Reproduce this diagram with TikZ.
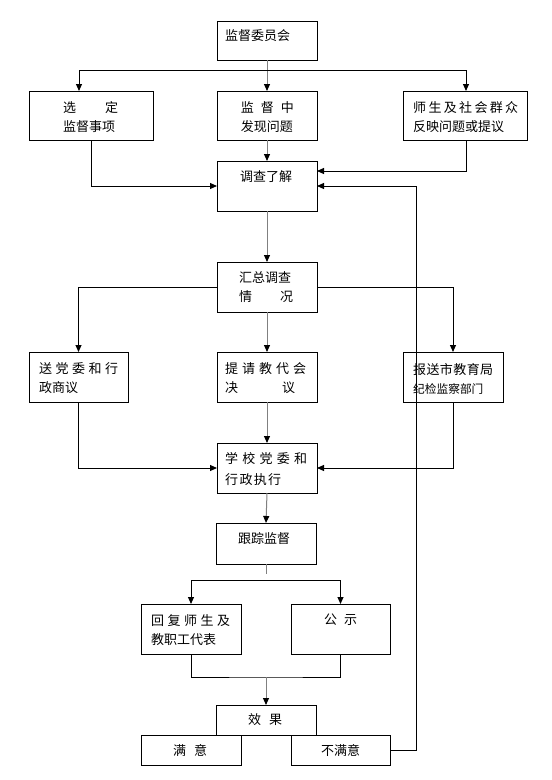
\documentclass[tikz,border=0pt]{standalone}
\usepackage{fontspec}
\newfontfamily\cjk{Noto Sans CJK SC}
\usetikzlibrary{arrows.meta,calc}
\tikzset{
  bx/.style={draw=black, line width=1pt, anchor=north west, inner sep=0pt, outer sep=0pt},
  tx/.style={font=\cjk\fontsize{13}{19}\selectfont, inner sep=0pt, anchor=west, align=left},
  ln/.style={line width=1pt, draw=black},
  gln/.style={line width=1pt, draw=gray},
  arr/.style={-{Triangle[width=6pt,length=7pt,color=black]}},
}
\begin{document}
\begin{tikzpicture}[x=1pt,y=-1pt]
\fill[white] (0,0) rectangle (552,780);
\useasboundingbox (0,0) rectangle (552,780);
% boxes
\node[bx,minimum width=100,minimum height=39] (top) at (217,21) {};
\node[tx] (ttop) at (225,36) {监督委员会};
\node[bx,minimum width=124,minimum height=49] (b1) at (29,91) {};
\node[tx] (tb1) at (63,117.2) {\makebox[55pt]{选\hfill 定}\\监督事项};
\node[bx,minimum width=100,minimum height=49] (b2) at (217,91) {};
\node[tx] (tb2) at (240.6,117.2) {\makebox[53pt]{监\hfill 督\hfill 中}\\发现问题};
\node[bx,minimum width=124,minimum height=49] (b3) at (403,91) {};
\node[tx] (tb3) at (413,117.5) {\makebox[105pt]{师\hfill 生\hfill 及\hfill 社\hfill 会\hfill 群\hfill 众}\\反映问题或提议};
\node[bx,minimum width=100,minimum height=50] (inv) at (217,161) {};
\node[tx] (tinv) at (240,177) {调查了解};
\node[bx,minimum width=100,minimum height=50] (sum) at (217,262) {};
\node[tx] (tsum) at (239,287.5) {汇总调查\\\makebox[54pt]{情\hfill 况}};
\node[bx,minimum width=99,minimum height=50] (p1) at (29,352) {};
\node[tx] (tp1) at (39,378.5) {\makebox[79pt]{送\hfill 党\hfill 委\hfill 和\hfill 行}\\政商议};
\node[bx,minimum width=100,minimum height=50] (p2) at (217,352) {};
\node[tx] (tp2) at (225,378.5) {\makebox[81pt]{提\hfill 请\hfill 教\hfill 代\hfill 会}\\\makebox[70pt]{决\hfill 议}};
\node[bx,minimum width=100,minimum height=50] (p3) at (403,352) {};
\node[tx] (tp3) at (413,378.5) {\makebox[80pt]{报\hfill 送\hfill 市\hfill 教\hfill 育\hfill 局}\\{\fontsize{11.7}{19}\selectfont 纪检监察部门}};
\node[bx,minimum width=100,minimum height=50] (exe) at (217,443) {};
\node[tx] (texe) at (225,468.8) {\makebox[82pt]{学\hfill 校\hfill 党\hfill 委\hfill 和}\\[2pt]\makebox[56pt]{行\hfill 政\hfill 执\hfill 行}};
\node[bx,minimum width=100,minimum height=41] (trk) at (216,523) {};
\node[tx] (ttrk) at (238,539) {跟踪监督};
\node[bx,minimum width=100,minimum height=50] (r1) at (141,604) {};
\node[tx] (tr1) at (151,629.7) {\makebox[79pt]{回\hfill 复\hfill 师\hfill 生\hfill 及}\\教职工代表};
\node[bx,minimum width=99,minimum height=50] (r2) at (291,604) {};
\node[tx] (tr2) at (324,620) {\makebox[33pt]{公\hfill 示}};
\node[bx,minimum width=100,minimum height=30] (eff) at (216,705) {};
\node[tx] (teff) at (248,720) {\makebox[34pt]{效\hfill 果}};
\node[bx,minimum width=100,minimum height=30] (s1) at (141,735) {};
\node[tx] (ts1) at (173,750) {\makebox[34pt]{满\hfill 意}};
\node[bx,minimum width=99,minimum height=30] (s2) at (291,735) {};
\node[tx] (ts2) at (321,750) {不满意};
% connectors
\coordinate (j1) at (267,70);
\draw[gln,arr] (top.south) -- (b2.north);
\draw[ln,arr] (j1) -| ([xshift=-12pt]b1.north);
\draw[ln,arr] (j1) -| ([xshift=1pt]b3.north);
\draw[gln,arr] (b2.south) -- (inv.north);
\draw[ln,arr] (b1.south) |- (inv.west);
\draw[ln,arr] ([xshift=1pt]b3.south) |- ([yshift=15pt]inv.east);
\draw[gln,arr] (inv.south) -- (sum.north);
\draw[ln,arr] (sum.west) -| (p1.north);
\draw[ln,arr] (sum.east) -| (p3.north);
\draw[gln,arr] (sum.south) -- (p2.north);
\draw[gln,arr] (p2.south) -- (exe.north);
\draw[ln,arr] (p1.south) |- (exe.west);
\draw[ln,arr] (p3.south) |- (exe.east);
\draw[gln,arr] (exe.south) -- (trk.north);
\coordinate (stub) at (266,574);
\draw[gln] (trk.south) -- (stub);
\coordinate (j2) at (266,580.3);
\draw[ln,arr] (j2) -| (r1.north);
\draw[ln,arr] (j2) -| (r2.north);
\coordinate (j3) at (266,677);
\draw[ln] (r1.south) |- (j3) -| (r2.south);
\draw[gln,arr] (j3) -- (eff.north);
\coordinate (fb) at (416,0);
\draw[ln,arr] (s2.east) -| (fb |- inv.east) -- (inv.east);
\end{tikzpicture}
\end{document}
